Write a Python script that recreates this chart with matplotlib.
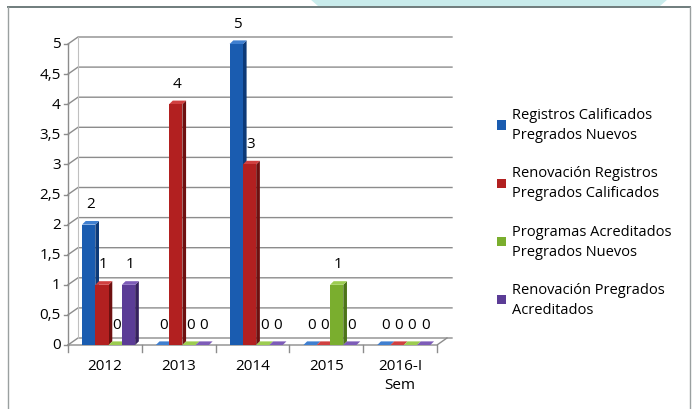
import numpy as np
import matplotlib.pyplot as plt
from matplotlib.patches import Polygon, Rectangle

plt.rcParams['font.family'] = ['Open Sans', 'DejaVu Sans']

# data
years = ['2012', '2013', '2014', '2015', '2016-I\nSem']
series = ['Registros Calificados\nPregrados Nuevos',
          'Renovación Registros\nPregrados Calificados',
          'Programas Acreditados\nPregrados Nuevos',
          'Renovación Pregrados\nAcreditados']
reg_nuevos = [2, 0, 5, 0, 0]
renov_reg = [1, 4, 3, 0, 0]
prog_acred = [0, 0, 0, 1, 0]
renov_acred = [1, 0, 0, 0, 0]
values = [reg_nuevos, renov_reg, prog_acred, renov_acred]

colors = ['#1a5cb0', '#b22020', '#7aae2e', '#5b3c96']
sides = ['#0d3a78', '#6e1010', '#4c7418', '#36215e']
tops = ['#3f7fd0', '#d04040', '#9ccc50', '#7d5cb8']

fig = plt.figure(figsize=(6.95, 4.1), dpi=100)
W, H = 695, 410

# decorative frame and band at the top
fig.patches.append(Polygon([[310 / W, 1], [668 / W, 1], [660 / W, 1 - 7 / H], [318 / W, 1 - 7 / H]],
                           closed=True, transform=fig.transFigure, facecolor='#c9ecec', edgecolor='none'))
fig.add_artist(plt.Line2D([8 / W, 690 / W], [1 - 8 / H, 1 - 8 / H], transform=fig.transFigure,
                          color='#6f7c7c', lw=1.4))
fig.add_artist(plt.Line2D([8 / W, 8 / W], [0, 1 - 8 / H], transform=fig.transFigure,
                          color='#9aa0a0', lw=1.0))
fig.add_artist(plt.Line2D([690 / W, 690 / W], [0, 1 - 8 / H], transform=fig.transFigure,
                          color='#9aa0a0', lw=1.0))

ax = fig.add_axes([68 / W, 64 / H, (452 - 68) / W, (346 - 30) / H])
xmax = -0.5 + 5 * (452 - 68) / (437 - 68)
ax.set_xlim(-0.5, xmax)
ax.set_ylim(0, (346 - 30) / 60.2)
for s in ax.spines.values():
    s.set_visible(False)
ax.set_xticks([])
ax.set_yticks([])

# depth of the back wall
dx = 10 / 74
dy = 7 / 60.2
grid_c = '#8c8c8c'
yt = np.arange(0, 5.01, 0.5)
for y in yt:
    ax.plot([-0.5, -0.5 + dx, xmax], [y, y + dy, y + dy], color=grid_c, lw=1.0, clip_on=False, zorder=1)
    ax.plot([-0.5 - 0.06, -0.5], [y, y], color=grid_c, lw=1.0, clip_on=False)
    ax.text(-0.5 - 0.1, y, ('%g' % y).replace('.', ','), ha='right', va='center', fontsize=11)
ax.plot([-0.5, -0.5], [0, 5], color=grid_c, lw=1.0, clip_on=False)
ax.plot([-0.5 + dx, -0.5 + dx], [dy, 5 + dy], color='#c0c0c0', lw=0.8, clip_on=False, zorder=1)
# floor front edge and right side
ax.plot([-0.5, 4.5, 4.5 + dx], [0, 0, dy], color=grid_c, lw=1.0, clip_on=False, zorder=1)
for i in range(6):
    ax.plot([i - 0.5, i - 0.5], [0, -0.12], color=grid_c, lw=1.0, clip_on=False)
for i, yr in enumerate(years):
    ax.text(i, -0.22, yr, ha='center', va='top', fontsize=11, linespacing=1.3)

# 3D-looking bars
bw = 0.18
bdx = 0.05
bdy = 0.06
for j, vals in enumerate(values):
    for i, v in enumerate(vals):
        x0 = i - 2 * bw + j * bw + 0.05
        x1 = x0 + bw
        ax.add_patch(Polygon([[x1, 0], [x1, v], [x1 + bdx, v + bdy], [x1 + bdx, bdy]],
                             closed=True, facecolor=sides[j], edgecolor='none', zorder=3 + j))
        ax.add_patch(Polygon([[x0, v], [x1, v], [x1 + bdx, v + bdy], [x0 + bdx, v + bdy]],
                             closed=True, facecolor=tops[j], edgecolor='none', zorder=3 + j))
        ax.add_patch(Rectangle((x0, 0), bw, v, facecolor=colors[j], edgecolor='none', zorder=3 + j))
        ax.annotate(str(v), (x0 + bw / 2 + 0.02, v), xytext=(0, 15), textcoords='offset points',
                    ha='center', va='center', fontsize=11, zorder=10)

# legend
handles = [Rectangle((0, 0), 1, 1, facecolor=c) for c in colors]
leg = fig.legend(handles, series, loc='upper left', bbox_to_anchor=(484 / W, 1 - 95 / H),
                 frameon=False, fontsize=10.5, handlelength=0.6, handleheight=0.6, handletextpad=0.4,
                 labelspacing=1.6)
for t in leg.get_texts():
    t.set_linespacing(1.45)

fig.savefig('out.png', dpi=100)
